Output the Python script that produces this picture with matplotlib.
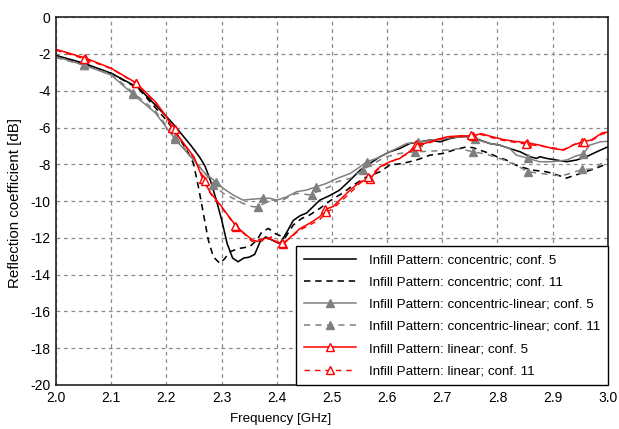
import matplotlib
matplotlib.use('Agg')
import matplotlib.pyplot as plt
import numpy as np

plt.rcParams['font.family'] = ['Liberation Sans', 'DejaVu Sans']

# Infill Pattern: concentric; conf. 5
conc5_f = [2.00, 2.05, 2.10, 2.15, 2.20, 2.215, 2.23, 2.245, 2.26, 2.27, 2.28, 2.29,
           2.30, 2.31, 2.32, 2.33, 2.34, 2.35, 2.36, 2.37, 2.38, 2.39, 2.40, 2.406,
           2.418, 2.43, 2.442, 2.454, 2.466, 2.478, 2.496, 2.514, 2.533, 2.551, 2.569,
           2.587, 2.605, 2.623, 2.641, 2.659, 2.678, 2.696, 2.714, 2.732, 2.75, 2.768,
           2.786, 2.804, 2.822, 2.841, 2.859, 2.871, 2.877, 2.889, 2.907, 2.925, 2.943,
           2.961, 2.98, 3.0]
conc5_db = [-2.08, -2.5, -3.05, -3.85, -5.4, -5.9, -6.45, -7.0, -7.6, -8.1, -8.9, -9.9,
            -11.0, -12.3, -13.1, -13.3, -13.1, -13.05, -12.9, -12.2, -11.95, -12.1, -12.25, -12.3,
            -11.7, -11.05, -10.8, -10.65, -10.3, -9.95, -9.7, -9.4, -8.86, -8.32, -7.95,
            -7.59, -7.32, -7.14, -6.87, -6.78, -6.68, -6.78, -6.6, -6.5, -6.47, -6.68,
            -6.87, -6.96, -7.14, -7.32, -7.59, -7.68, -7.59, -7.68, -7.77, -7.86, -7.77,
            -7.59, -7.32, -7.05]

# Infill Pattern: concentric; conf. 11
conc11_f = [2.00, 2.05, 2.10, 2.15, 2.20, 2.22, 2.24, 2.249, 2.258, 2.267, 2.276, 2.285,
            2.297, 2.306, 2.315, 2.333, 2.351, 2.364, 2.373, 2.385, 2.397, 2.415, 2.43,
            2.445, 2.46, 2.478, 2.496, 2.52, 2.539, 2.563, 2.587, 2.605, 2.629, 2.653,
            2.678, 2.702, 2.72, 2.744, 2.756, 2.77, 2.786, 2.80, 2.816, 2.83, 2.841, 2.865,
            2.889, 2.905, 2.925, 2.94, 2.96, 2.98, 3.0]
conc11_db = [-2.15, -2.55, -3.05, -3.9, -5.6, -6.4, -7.4, -7.95, -9.22, -10.67, -12.12, -13.03,
             -13.39, -13.12, -12.75, -12.57, -12.48, -12.12, -11.67, -11.49, -11.76, -12.0, -11.3,
             -10.95, -10.75, -10.4, -10.0, -9.55, -9.13, -8.68, -8.41, -8.04, -7.95, -7.77,
             -7.5, -7.41, -7.23, -7.05, -7.1, -7.25, -7.41, -7.6, -7.77, -8.0, -8.14, -8.32,
             -8.41, -8.55, -8.75, -8.6, -8.4, -8.2, -7.95]

# Infill Pattern: concentric-linear; conf. 5
cl5_f = [2.00, 2.05, 2.10, 2.14, 2.18, 2.215, 2.25, 2.27, 2.29, 2.303, 2.321, 2.339,
         2.351, 2.375, 2.388, 2.40, 2.418, 2.436, 2.454, 2.472, 2.49, 2.509, 2.533, 2.551,
         2.563, 2.581, 2.599, 2.617, 2.635, 2.656, 2.684, 2.708, 2.732, 2.745, 2.759,
         2.786, 2.804, 2.822, 2.834, 2.856, 2.876, 2.90, 2.925, 2.942, 2.955, 2.967,
         2.986, 3.0]
cl5_db = [-2.15, -2.6, -3.15, -4.2, -5.2, -6.6, -7.8, -8.5, -8.95, -9.31, -9.67, -9.95,
          -9.91, -9.85, -9.85, -9.95, -9.77, -9.49, -9.40, -9.22, -9.04, -8.77, -8.5, -8.14,
          -7.86, -7.68, -7.41, -7.14, -6.87, -6.8, -6.68, -6.59, -6.50, -6.52, -6.62,
          -6.87, -6.96, -7.14, -7.50, -7.68, -7.86, -7.86, -7.77, -7.55, -7.45, -6.96,
          -6.78, -6.75]
cl5_marks = [2.05, 2.14, 2.215, 2.29, 2.375, 2.472, 2.563, 2.656, 2.759, 2.856, 2.955]

# Infill Pattern: concentric-linear; conf. 11
cl11_f = [2.00, 2.05, 2.10, 2.14, 2.18, 2.215, 2.25, 2.27, 2.285, 2.303, 2.321, 2.339,
          2.357, 2.366, 2.388, 2.41, 2.436, 2.463, 2.478, 2.496, 2.509, 2.533, 2.557,
          2.575, 2.599, 2.623, 2.65, 2.67, 2.70, 2.73, 2.756, 2.78, 2.81, 2.83, 2.856,
          2.88, 2.90, 2.92, 2.954, 2.975, 3.0]
cl11_db = [-2.2, -2.6, -3.1, -4.1, -5.1, -6.5, -7.75, -8.5, -9.1, -9.58, -9.85, -10.13,
           -10.31, -10.31, -9.95, -9.95, -9.58, -9.67, -9.4, -9.22, -8.95, -8.77, -8.3,
           -7.95, -7.59, -7.41, -7.32, -7.3, -7.25, -7.15, -7.32, -7.45, -7.75, -8.0, -8.41,
           -8.5, -8.6, -8.6, -8.28, -8.25, -7.7]
cl11_marks = [2.05, 2.14, 2.215, 2.285, 2.366, 2.463, 2.557, 2.65, 2.756, 2.856, 2.954]

# Infill Pattern: linear; conf. 5
lin5_f = [2.00, 2.053, 2.10, 2.145, 2.18, 2.20, 2.211, 2.23, 2.25, 2.266, 2.28, 2.30,
          2.327, 2.343, 2.355, 2.365, 2.375, 2.385, 2.395, 2.412, 2.425, 2.442, 2.46,
          2.478, 2.488, 2.502, 2.514, 2.533, 2.551, 2.569, 2.587, 2.605, 2.623, 2.641,
          2.653, 2.67, 2.69, 2.71, 2.733, 2.755, 2.77, 2.79, 2.81, 2.83, 2.854, 2.877,
          2.90, 2.92, 2.937, 2.954, 2.97, 2.99, 3.0]
lin5_db = [-1.75, -2.22, -2.78, -3.57, -4.6, -5.4, -6.05, -6.8, -7.6, -8.8, -9.55, -10.3,
           -11.39, -11.8, -12.1, -12.2, -12.05, -12.0, -12.15, -12.34, -11.95, -11.5, -11.2,
           -10.85, -10.45, -10.3, -9.95, -9.4, -8.95, -8.8, -8.14, -7.86, -7.68, -7.3,
           -6.9, -6.85, -6.65, -6.5, -6.45, -6.47, -6.33, -6.5, -6.65, -6.75, -6.83, -6.96,
           -7.14, -7.23, -6.96, -6.78, -6.68, -6.29, -6.25]
lin5_marks = [2.053, 2.145, 2.211, 2.266, 2.327, 2.412, 2.488, 2.569, 2.653, 2.755, 2.854, 2.954]

# Infill Pattern: linear; conf. 11
lin11_f = [2.00, 2.05, 2.10, 2.145, 2.18, 2.20, 2.215, 2.23, 2.25, 2.27, 2.28, 2.30,
           2.325, 2.345, 2.355, 2.365, 2.378, 2.39, 2.40, 2.41, 2.425, 2.44, 2.46, 2.478,
           2.49, 2.50, 2.515, 2.535, 2.55, 2.565, 2.585, 2.605, 2.625, 2.64, 2.655, 2.67,
           2.69, 2.71, 2.735, 2.752, 2.77, 2.79, 2.81, 2.83, 2.852, 2.875, 2.90, 2.92,
           2.94, 2.957, 2.97, 2.99, 3.0]
lin11_db = [-1.8, -2.25, -2.8, -3.6, -4.65, -5.45, -6.1, -6.85, -7.65, -8.9, -9.6, -10.35,
            -11.35, -11.9, -12.2, -12.05, -12.2, -11.95, -12.25, -12.3, -12.0, -11.6, -11.3,
            -11.0, -10.6, -10.45, -10.05, -9.5, -9.05, -8.7, -8.2, -7.9, -7.6, -7.4,
            -7.0, -6.9, -6.7, -6.55, -6.5, -6.4, -6.38, -6.55, -6.7, -6.8, -6.9, -7.0,
            -7.1, -7.2, -6.9, -6.8, -6.72, -6.35, -6.3]
lin11_marks = [2.05, 2.145, 2.215, 2.27, 2.325, 2.41, 2.49, 2.565, 2.655, 2.752, 2.852, 2.957]

x_ticks = [2.0, 2.1, 2.2, 2.3, 2.4, 2.5, 2.6, 2.7, 2.8, 2.9, 3.0]
y_ticks = [0, -2, -4, -6, -8, -10, -12, -14, -16, -18, -20]


def mark_idx(freqs, marks):
    f = np.array(freqs)
    return [int(np.argmin(np.abs(f - m))) for m in marks]


fig, ax = plt.subplots(figsize=(6.19, 4.29), dpi=100)
fig.subplots_adjust(left=0.0905, right=0.982, top=0.960, bottom=0.1026)

gray = '#808080'
ax.plot(conc5_f, conc5_db, color='black', lw=1.15,
        label='Infill Pattern: concentric; conf. 5')
ax.plot(conc11_f, conc11_db, color='black', lw=1.15, dashes=(4, 3),
        label='Infill Pattern: concentric; conf. 11')
ax.plot(cl5_f, cl5_db, color=gray, lw=1.1, marker='^', ms=6,
        markevery=mark_idx(cl5_f, cl5_marks),
        label='Infill Pattern: concentric-linear; conf. 5')
ax.plot(cl11_f, cl11_db, color=gray, lw=1.1, dashes=(4, 3.5), marker='^', ms=6,
        markevery=mark_idx(cl11_f, cl11_marks),
        label='Infill Pattern: concentric-linear; conf. 11')
ax.plot(lin5_f, lin5_db, color='red', lw=1.1, marker='^', ms=6, mfc='white', mec='red',
        markevery=mark_idx(lin5_f, lin5_marks),
        label='Infill Pattern: linear; conf. 5')
ax.plot(lin11_f, lin11_db, color='red', lw=1.0, dashes=(4, 3.5), marker='^', ms=6,
        mfc='white', mec='red', markevery=mark_idx(lin11_f, lin11_marks),
        label='Infill Pattern: linear; conf. 11')

ax.set_xlim(2.0, 3.0)
ax.set_ylim(-20, 0)
ax.set_xticks(x_ticks)
ax.set_yticks(y_ticks)
ax.set_xticklabels([f'{v:.1f}' for v in x_ticks])
ax.set_yticklabels([str(v) for v in y_ticks])
ax.tick_params(direction='in', length=0, labelsize=10, pad=4)
ax.grid(True, color='#8a8a8a', linestyle=(0, (3, 3)), lw=0.9)
for s in ax.spines.values():
    s.set_color('#222222')
    s.set_linewidth(1.2)

ax.set_xlabel('Frequency [GHz]', fontsize=9.6)
ax.xaxis.set_label_coords(0.4067, -0.076)
ax.set_ylabel('Reflection coefficient [dB]', fontsize=10.8)
ax.yaxis.set_label_coords(-0.0625, 0.496)

leg = ax.legend(loc='lower right', bbox_to_anchor=(1.0, 0.0), borderaxespad=0,
                fontsize=9.6, handlelength=3.9, handletextpad=1.0, labelspacing=0.74,
                borderpad=0.58, fancybox=False, framealpha=1, edgecolor='black',
                numpoints=1)
leg.get_frame().set_linewidth(1.0)
leg.set_zorder(5)

fig.savefig('out.png', dpi=100)
